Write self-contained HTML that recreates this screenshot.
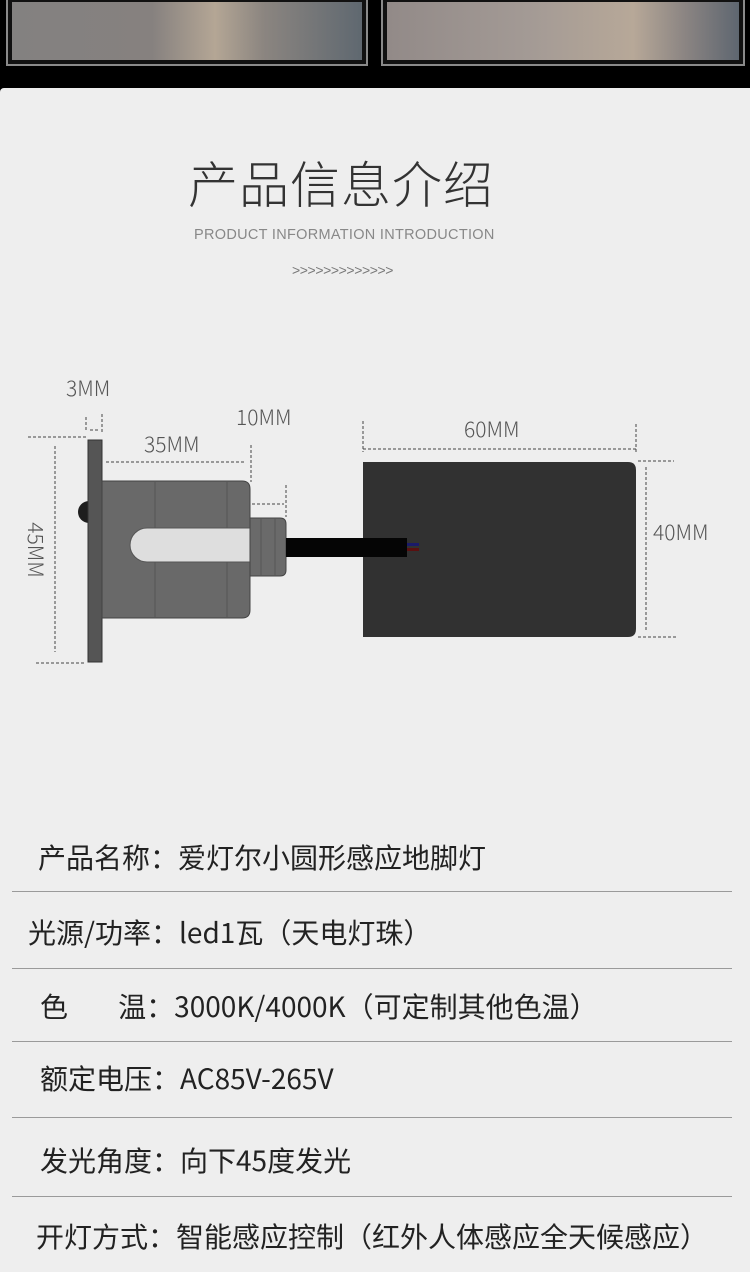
<!DOCTYPE html>
<html><head><meta charset="utf-8"><style>
html,body{margin:0;padding:0}
body{width:750px;height:1272px;position:relative;overflow:hidden;background:#000;font-family:"Liberation Sans","Noto Sans CJK SC",sans-serif}
.abs{position:absolute}
.photo{position:absolute;top:-4px;height:70px;border:2px solid #8a8a8a;box-sizing:border-box;background:#111;padding:4px}
.photo div{width:100%;height:100%}
.main{position:absolute;left:0;top:88px;width:750px;height:1184px;background:#eeeeee;border-top-left-radius:4px}
.t{position:absolute;font-family:"Noto Sans CJK SC",sans-serif;color:#222;font-size:28px;white-space:nowrap;line-height:30px}
.hr{position:absolute;left:12px;width:720px;height:1px;background:#9a9a9a}
.dim{position:absolute;font-size:21px;color:#555;font-weight:300;font-family:"Noto Sans CJK SC","Liberation Sans",sans-serif;white-space:nowrap}
</style></head><body>
<div class="photo" style="left:6px;width:362px"><div style="background:linear-gradient(90deg,#838180 0%,#86817f 40%,#b4a695 58%,#8b8580 72%,#5f6870 100%)"></div></div>
<div class="photo" style="left:381px;width:364px"><div style="background:linear-gradient(90deg,#928a88 0%,#a39a95 40%,#b7a898 70%,#8a8482 85%,#5e6670 100%)"></div></div>
<div class="main"></div>
<div class="t" style="left:188px;top:152px;font-size:50px;line-height:60px;color:#333;font-weight:300;letter-spacing:1px;font-family:'Noto Sans CJK SC',sans-serif">产品信息介绍</div>
<div class="t" style="left:194px;top:226px;font-size:14.5px;line-height:18px;color:#888;letter-spacing:0.3px;font-family:'Liberation Sans',sans-serif">PRODUCT INFORMATION INTRODUCTION</div>
<div class="t" style="left:292px;top:261px;font-size:14px;line-height:18px;color:#777;letter-spacing:-0.4px;font-family:'Liberation Sans',sans-serif">&gt;&gt;&gt;&gt;&gt;&gt;&gt;&gt;&gt;&gt;&gt;&gt;&gt;</div>

<svg class="abs" style="left:0;top:0" width="750" height="1272">
<g stroke="#444" stroke-width="1" stroke-dasharray="3,2" fill="none">
<line x1="28" y1="437" x2="86" y2="437"/>
<line x1="36" y1="663" x2="86" y2="663"/>
<line x1="55" y1="446" x2="55" y2="652"/>
<line x1="86" y1="417" x2="86" y2="432"/>
<line x1="102" y1="414" x2="102" y2="433"/>
<line x1="90" y1="430" x2="98" y2="430"/>
<line x1="106" y1="462" x2="245" y2="462"/>
<line x1="251" y1="445" x2="251" y2="482"/>
<line x1="252" y1="504" x2="284" y2="504"/>
<line x1="286" y1="485" x2="286" y2="517"/>
<line x1="363" y1="421" x2="363" y2="452"/>
<line x1="363" y1="449" x2="636" y2="449"/>
<line x1="636" y1="424" x2="636" y2="453"/>
<line x1="638" y1="461" x2="674" y2="461"/>
<line x1="638" y1="637" x2="678" y2="637"/>
<line x1="646" y1="467" x2="646" y2="630"/>
</g>
<circle cx="89" cy="512" r="11" fill="#1e1e1e"/>
<rect x="88" y="440" width="14" height="222" fill="#555" stroke="#333" stroke-width="1"/>
<path d="M102 481 H242 Q250 481 250 489 V610 Q250 618 242 618 H102 Z" fill="#696969" stroke="#444"/>
<line x1="155" y1="481" x2="155" y2="618" stroke="#555"/>
<line x1="227" y1="481" x2="227" y2="618" stroke="#555"/>
<path d="M147 528 H250 V562 H147 A17 17 0 0 1 147 528 Z" fill="#dedede" stroke="#555"/>
<path d="M250 518 H280 Q286 518 286 524 V570 Q286 576 280 576 H250 Z" fill="#6a6a6a" stroke="#444"/>
<line x1="261" y1="518" x2="261" y2="576" stroke="#555"/>
<line x1="275" y1="518" x2="275" y2="576" stroke="#555"/>
<path d="M363 462 H628 Q636 462 636 470 V629 Q636 637 628 637 H363 Z" fill="#313131"/>
<rect x="286" y="538" width="121" height="19" fill="#050505"/>
<rect x="407" y="543" width="12" height="3" fill="#1a1a6a"/>
<rect x="407" y="548" width="12" height="3" fill="#5a1010"/>
</svg>
<div class="dim" style="left:66px;top:373px">3MM</div>
<div class="dim" style="left:236px;top:402px">10MM</div>
<div class="dim" style="left:144px;top:429px">35MM</div>
<div class="dim" style="left:464px;top:414px">60MM</div>
<div class="dim" style="left:653px;top:517px">40MM</div>
<div class="dim" style="left:8px;top:535px;transform:rotate(90deg);transform-origin:center">45MM</div>

<div class="t" style="left:38px;top:842px">产品名称：爱灯尔小圆形感应地脚灯</div>
<div class="hr" style="top:891px"></div>
<div class="t" style="left:28px;top:917px">光源/功率：led1瓦（天电灯珠）</div>
<div class="hr" style="top:968px"></div>
<div class="t" style="left:40px;top:991px">色&nbsp;&nbsp;&nbsp;&nbsp;&nbsp;&nbsp;&nbsp;&nbsp;温：3000K/4000K（可定制其他色温）</div>
<div class="hr" style="top:1041px"></div>
<div class="t" style="left:40px;top:1063px">额定电压：AC85V-265V</div>
<div class="hr" style="top:1117px"></div>
<div class="t" style="left:40px;top:1145px">发光角度：向下45度发光</div>
<div class="hr" style="top:1196px"></div>
<div class="t" style="left:36px;top:1221px">开灯方式：智能感应控制（红外人体感应全天候感应）</div>
</body></html>
